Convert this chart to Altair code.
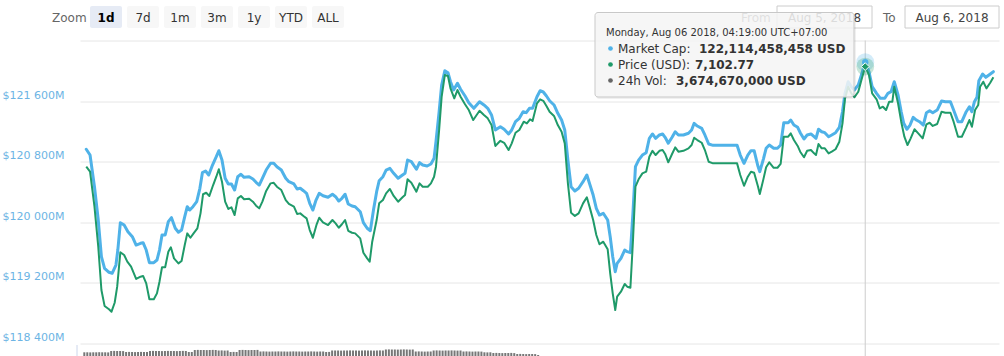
import altair as alt
import pandas as pd

# ---------------- data ----------------
# minutes since the start of the 1-day window (Aug 5 2018, 07:43 UTC+7)
cap_t = [2, 8, 15, 21, 26, 31, 38, 43, 49, 52,
         56, 62, 68, 75, 81, 88, 92, 97, 102, 109,
         114, 118, 122, 127, 132, 137, 143, 148, 153, 158,
         162, 166, 171, 177, 182, 186, 191, 196, 202, 208,
         212, 217, 222, 227, 232, 237, 242, 247, 252, 260,
         266, 271, 276, 281, 287, 294, 299, 304, 311, 318,
         323, 331, 336, 341, 346, 351, 356, 361, 366, 371,
         377, 385, 392, 397, 402, 407, 412, 417, 423, 428,
         436, 441, 447, 452, 457, 462, 466, 472, 477, 483,
         489, 496, 503, 507, 511, 517, 525, 530, 535, 542,
         548, 553, 556, 561, 565, 570, 575, 579, 584, 590,
         595, 602, 608, 616, 625, 632, 638, 644, 650, 658,
         664, 671, 676, 682, 688, 694, 699, 704, 709, 716,
         721, 726, 731, 736, 743, 749, 755, 760, 765, 770,
         776, 782, 789, 795, 800, 805, 810, 815, 821, 828,
         832, 836, 840, 843, 849, 855, 859, 864, 868, 872,
         877, 883, 889, 894, 899, 904, 910, 915, 919, 924,
         930, 935, 940, 948, 956, 961, 965, 970, 977, 982,
         988, 995, 1008, 1024, 1033, 1038, 1044, 1050, 1055, 1060,
         1066, 1069, 1075, 1079, 1084, 1091, 1097, 1102, 1107, 1114,
         1118, 1123, 1129, 1133, 1139, 1144, 1150, 1155, 1158, 1162,
         1167, 1172, 1178, 1183, 1189, 1195, 1200, 1204, 1209, 1214,
         1219, 1225, 1230, 1236, 1242, 1247, 1254, 1260, 1267, 1272,
         1277, 1282, 1288, 1293, 1297, 1302, 1307, 1312, 1317, 1322,
         1328, 1333, 1338, 1343, 1350, 1357, 1363, 1371, 1376, 1383,
         1389, 1396, 1401, 1405, 1409, 1413, 1416, 1422, 1427, 1432, 1439]

# market cap, millions of USD
cap_v = [120964, 120888, 120470, 120030, 119546, 119393, 119340, 119327, 119436, 119634,
         119995, 119964, 119876, 119810, 119700, 119723, 119731, 119634, 119467, 119467,
         119502, 119634, 119832, 119832, 120008, 120061, 119921, 119868, 119898, 120074,
         120206, 120162, 120206, 120272, 120449, 120655, 120677, 120624, 120756, 120866,
         120945, 120822, 120581, 120506, 120506, 120426, 120602, 120634, 120594, 120602,
         120572, 120528, 120492, 120581, 120690, 120779, 120779, 120734, 120690, 120581,
         120536, 120506, 120440, 120449, 120417, 120383, 120251, 120162, 120294, 120383,
         120351, 120330, 120370, 120338, 120281, 120317, 120370, 120242, 120215, 120206,
         120140, 119995, 119921, 119889, 120162, 120404, 120549, 120602, 120690, 120713,
         120647, 120581, 120624, 120647, 120822, 120800, 120700, 120787, 120756, 120743,
         120770, 120845, 121064, 121460, 121813, 122001, 121975, 121856, 121747, 121835,
         121756, 121667, 121579, 121505, 121592, 121549, 121505, 121417, 121219, 121262,
         121228, 121166, 121219, 121328, 121373, 121460, 121447, 121505, 121505, 121658,
         121737, 121720, 121667, 121605, 121549, 121439, 121350, 121219, 120822, 120470,
         120413, 120449, 120536, 120624, 120492, 120360, 120185, 120096, 120119, 120030,
         119810, 119546, 119348, 119459, 119525, 119634, 119612, 119599, 120119, 120734,
         120822, 120888, 120919, 121109, 121166, 121109, 121153, 121166, 121122, 121043,
         121122, 121196, 121153, 121153, 121175, 121219, 121307, 121271, 121241, 121153,
         121034, 121016, 121016, 121016, 121016, 120888, 120779, 120888, 120945, 120945,
         120743, 120668, 120845, 120977, 121020, 120977, 120977, 121020, 121315, 121315,
         121350, 121284, 121254, 121183, 121100, 121153, 121166, 121130, 121109, 121228,
         121196, 121183, 121130, 121153, 121183, 121254, 121460, 121703, 121856, 121790,
         121747, 121813, 121945, 122114.458458, 121988, 121790, 121703, 121637, 121637, 121703,
         121724, 121856, 121681, 121460, 121307, 121228, 121284, 121386, 121350, 121328,
         121284, 121447, 121473, 121447, 121482, 121601, 121592, 121592, 121482, 121328,
         121328, 121460, 121526, 121460, 121592, 121650, 121869, 121958, 121914, 121945, 121988]

price_t = [2, 8, 15, 21, 26, 31, 38, 42, 47, 51,
           56, 62, 67, 73, 81, 88, 92, 97, 102, 109,
           114, 118, 122, 127, 132, 136, 141, 148, 153, 158,
           162, 167, 172, 178, 183, 187, 192, 197, 203, 208,
           212, 217, 222, 227, 232, 237, 242, 247, 252, 260,
           266, 271, 276, 281, 287, 294, 299, 304, 311, 318,
           323, 331, 336, 341, 346, 351, 356, 361, 367, 371,
           377, 385, 392, 397, 402, 407, 412, 417, 423, 428,
           436, 441, 447, 451, 455, 462, 466, 472, 477, 483,
           489, 496, 503, 507, 511, 517, 525, 530, 535, 543,
           548, 553, 556, 561, 565, 570, 575, 579, 585, 590,
           595, 602, 608, 615, 625, 632, 638, 644, 650, 658,
           664, 671, 676, 682, 688, 695, 700, 705, 709, 716,
           721, 726, 731, 736, 743, 749, 755, 760, 765, 770,
           776, 782, 789, 795, 800, 805, 810, 815, 821, 828,
           832, 836, 840, 843, 849, 855, 859, 864, 868, 872,
           877, 883, 889, 894, 899, 904, 910, 915, 919, 924,
           930, 935, 940, 948, 956, 961, 965, 970, 977, 982,
           988, 995, 1008, 1024, 1033, 1038, 1044, 1050, 1055, 1060,
           1066, 1069, 1075, 1079, 1084, 1091, 1097, 1102, 1107, 1114,
           1118, 1123, 1129, 1133, 1139, 1144, 1150, 1155, 1158, 1162,
           1167, 1172, 1178, 1183, 1189, 1195, 1200, 1204, 1209, 1214,
           1219, 1225, 1230, 1236, 1242, 1247, 1254, 1259, 1264, 1269,
           1274, 1279, 1282, 1288, 1293, 1298, 1303, 1308, 1314, 1320,
           1327, 1333, 1338, 1343, 1350, 1357, 1363, 1371, 1376, 1383,
           1389, 1396, 1401, 1405, 1410, 1415, 1418, 1423, 1428, 1434, 1439]

# price, USD
price_v = [7036.7, 7033.4, 7010.3, 6983.9, 6955.3, 6944.8, 6942.6, 6941.0, 6946.9, 6957.5,
           6980.2, 6978.4, 6974.0, 6970.7, 6962.6, 6964.1, 6964.6, 6959.7, 6949.2, 6949.2,
           6953.1, 6960.8, 6970.3, 6970.3, 6980.6, 6983.5, 6976.2, 6972.9, 6974.5, 6985.0,
           6992.7, 6989.8, 6992.7, 6996.0, 7005.9, 7018.5, 7019.5, 7017.4, 7024.6, 7030.1,
           7035.0, 7026.8, 7013.6, 7008.8, 7009.9, 7004.8, 7015.8, 7017.4, 7015.2, 7015.6,
           7013.6, 7011.0, 7009.2, 7013.6, 7020.7, 7025.7, 7026.1, 7023.5, 7021.3, 7014.7,
           7012.1, 7010.3, 7005.5, 7005.9, 7004.2, 7002.6, 6994.9, 6989.8, 6998.7, 7003.0,
           7000.0, 6998.2, 7001.5, 6999.3, 6996.4, 6998.7, 7001.5, 6994.4, 6993.1, 6992.7,
           6989.4, 6979.9, 6976.2, 6974.0, 6987.2, 7001.5, 7012.5, 7014.7, 7019.1, 7022.0,
           7017.4, 7013.6, 7016.5, 7018.0, 7028.4, 7026.1, 7020.2, 7025.7, 7023.5, 7023.5,
           7025.7, 7030.1, 7036.7, 7060.9, 7082.9, 7097.2, 7096.6, 7088.4, 7081.8, 7087.3,
           7082.9, 7077.9, 7074.1, 7067.5, 7073.6, 7070.8, 7068.6, 7064.2, 7050.4, 7053.8,
           7052.5, 7047.7, 7052.1, 7059.1, 7060.9, 7066.4, 7065.3, 7068.0, 7066.9, 7078.5,
           7081.2, 7080.2, 7076.8, 7073.0, 7070.2, 7064.2, 7059.8, 7052.1, 7025.7, 7006.3,
           7004.2, 7005.9, 7012.5, 7016.5, 7009.2, 7001.5, 6991.6, 6985.5, 6987.2, 6982.2,
           6966.3, 6953.1, 6942.1, 6950.9, 6954.2, 6959.3, 6957.5, 6956.8, 6987.2, 7023.5,
           7028.4, 7032.3, 7033.4, 7043.3, 7047.2, 7044.4, 7047.2, 7047.7, 7045.1, 7039.6,
           7045.1, 7049.5, 7046.6, 7047.2, 7048.8, 7051.0, 7055.8, 7054.3, 7052.5, 7047.7,
           7040.0, 7038.9, 7038.9, 7038.9, 7038.9, 7031.2, 7024.1, 7030.1, 7033.4, 7032.7,
           7023.8, 7018.7, 7029.0, 7036.3, 7039.6, 7036.0, 7036.0, 7038.5, 7056.5, 7056.5,
           7058.7, 7054.3, 7050.4, 7046.6, 7042.9, 7047.2, 7047.7, 7045.5, 7044.4, 7051.7,
           7048.8, 7048.8, 7045.5, 7046.6, 7048.2, 7053.2, 7065.3, 7081.8, 7089.5, 7085.1,
           7082.5, 7086.2, 7093.9, 7102.77, 7097.2, 7085.1, 7081.2, 7075.2, 7076.3, 7074.1,
           7079.6, 7079.6, 7089.5, 7078.5, 7066.4, 7056.5, 7051.0, 7055.4, 7061.4, 7058.7,
           7055.4, 7064.7, 7065.7, 7063.6, 7064.9, 7073.0, 7072.3, 7072.3, 7066.4, 7056.5,
           7056.5, 7062.7, 7067.5, 7063.1, 7074.1, 7077.4, 7089.5, 7092.8, 7088.4, 7092.1, 7095.7]

# volume pane (only its top edge is visible), relative units
vol_v = [9.7, 9.7, 9.6, 9.7, 9.7, 9.8, 9.7, 9.7, 9.6,
         11.0, 11.1, 11.0, 11.0, 10.9,
         10.0, 10.1, 10.0, 9.9, 10.0,
         10.1, 10.0, 10.0,
         11.0, 11.1, 11.0, 11.0, 10.9, 11.0, 11.1, 11.0, 11.0, 10.9, 11.0, 11.1, 11.0,
         10.0, 10.0,
         12.0, 12.1, 12.0, 12.0, 11.9, 12.0, 12.1, 12.0,
         11.5, 11.6, 11.4, 11.5,
         10.0, 10.1, 10.0,
         12.0, 12.1, 12.0, 11.9, 12.0, 12.0, 12.1,
         10.5, 10.6, 10.5, 10.4, 10.5, 10.5, 10.6, 10.5, 10.5, 10.4, 10.5,
         10.6, 10.5, 10.5, 10.4, 10.5, 10.5, 10.6, 10.5, 10.4, 10.5, 10.5,
         10.0, 10.1,
         11.5, 11.6, 11.5, 11.4, 11.5, 11.5, 11.6, 11.5, 11.5, 11.4, 11.5, 11.6, 11.5, 11.5, 11.4, 11.5, 11.6, 11.5,
         12.5, 12.6, 12.5, 12.5, 12.4, 12.5, 12.6, 12.5, 12.4, 12.5,
         10.5, 10.6, 10.5, 10.4, 10.5, 10.5,
         11.5, 11.6, 11.5, 11.4, 11.5, 11.5, 11.6, 11.5, 11.4, 11.5,
         10.5, 10.6, 10.5, 10.4, 10.5, 10.5, 10.4,
         9.7, 9.6, 9.7,
         9.0, 9.1, 9.0, 8.9, 9.0, 9.0, 9.1, 8.9,
         8.0, 8.1, 8.0, 7.9, 8.0, 8.0, 7.9,
         7.0]

cap_ticks = [118400, 119200, 120000, 120800, 121600, 122400]

zoom_buttons = ["1d", "7d", "1m", "3m", "1y", "YTD", "ALL"]
date_from = "Aug 5, 2018"
date_to = "Aug 6, 2018"

hover_t = 1236
hover_cap = 122114.458458
hover_price = 7102.77
tip_title = "Monday, Aug 06 2018, 04:19:00 UTC+07:00"
tip_rows = [("Market Cap: ", "122,114,458,458 USD"),
            ("Price (USD): ", "7,102.77"),
            ("24h Vol: ", "3,674,670,000 USD")]

# ---------------- styling ----------------
FONT = "DejaVu Sans"
BLUE = "#4fb2e8"
GREEN = "#1f9a69"
GRAY = "#777777"
LABEL = "#6cb4e4"
OX, OY = 80, 40.5          # plot origin inside the page
W, H = 919, 303

cap_df = pd.DataFrame({"t": cap_t, "cap": cap_v})
price_df = pd.DataFrame({"t": price_t, "price": price_v})
vol_df = pd.DataFrame({"t": [-1.1 + 4.73 * i for i in range(len(vol_v))], "vol": vol_v})
hover_df = pd.DataFrame({"t": [hover_t], "cap": [hover_cap], "price": [hover_price]})
one = pd.DataFrame({"k": [0]})

xs = alt.Scale(domain=[0, 1440], nice=False, zero=False)
X = alt.X("t:Q", scale=xs, axis=None)
cap_scale = alt.Scale(domain=[118400, 122400], nice=False, zero=False)
price_scale = alt.Scale(domain=[6920, 7120], nice=False, zero=False)


def txt(s, x, y, size=12, color="#333333", weight="normal", align="left", baseline="alphabetic", opacity=1):
    return alt.Chart(one).mark_text(
        text=s, align=align, baseline=baseline, font=FONT, fontSize=size,
        fontWeight=weight, color=color, opacity=opacity
    ).encode(x=alt.value(x - OX), y=alt.value(y - OY))


def box(x1, y1, x2, y2, fill, stroke=None, radius=0, fill_opacity=1.0, stroke_width=1):
    kw = dict(color=fill, fillOpacity=fill_opacity, cornerRadius=radius)
    if stroke:
        kw.update(stroke=stroke, strokeWidth=stroke_width)
    return alt.Chart(one).mark_rect(**kw).encode(
        x=alt.value(x1 - OX), x2=alt.value(x2 - OX),
        y=alt.value(y1 - OY), y2=alt.value(y2 - OY))


layers = []

# range selector
layers.append(txt("Zoom", 52, 21.5, size=12, color="#666666"))
for i, b in enumerate(zoom_buttons):
    x0 = 90 + 37 * i
    sel = i == 0
    layers.append(box(x0, 6, x0 + 32, 28, "#e6ebf5" if sel else "#f7f7f7", radius=2))
    layers.append(txt(b, x0 + 16, 21.5, size=12, color="#000000" if sel else "#333333",
                      weight="bold" if sel else "normal", align="center"))

# date inputs
layers.append(txt("From", 741, 21.5, size=12, color="#666666"))
layers.append(box(777, 6, 872, 28, "#ffffff", stroke="#cccccc"))
layers.append(txt(date_from, 824.5, 21.5, size=12, color="#444444", align="center"))
layers.append(txt("To", 883, 21.5, size=12, color="#666666"))
layers.append(box(905, 6, 999, 28, "#ffffff", stroke="#cccccc"))
layers.append(txt(date_to, 952, 21.5, size=12, color="#444444", align="center"))

# volume pane (top edge only)
layers.append(alt.Chart(one).mark_rule(color="#ccd6eb").encode(
    x=alt.value(77 - OX), y=alt.value(345 - OY), y2=alt.value(356 - OY)))
layers.append(alt.Chart(vol_df).mark_bar(size=2, color=GRAY).encode(
    x=X,
    y=alt.Y("vol:Q", scale=alt.Scale(domain=[0, 20], range=[362 - OY, 342 - OY], nice=False), axis=None)))

# crosshair
layers.append(alt.Chart(hover_df).mark_rule(color="#cccccc", strokeWidth=1).encode(
    x=X, y=alt.value(0), y2=alt.value(356 - OY)))

# market cap line with its axis
label_expr = ("datum.value >= 122400 ? '' : '$' + replace(format(datum.value, ','), ',', ' ') + 'M'")
layers.append(alt.Chart(cap_df).mark_line(color=BLUE, strokeWidth=3, strokeJoin="round", strokeCap="round").encode(
    x=X,
    y=alt.Y("cap:Q", scale=cap_scale,
            axis=alt.Axis(values=cap_ticks, title=None, grid=True, gridColor="#e6e6e6", gridWidth=1,
                          domain=False, ticks=False, labelColor=LABEL, labelFont=FONT, labelFontSize=11,
                          labelPadding=16, labelOffset=-3, labelBaseline="alphabetic",
                          labelExpr=label_expr))))

# price line
layers.append(alt.Chart(price_df).mark_line(color=GREEN, strokeWidth=2, strokeJoin="round").encode(
    x=X, y=alt.Y("price:Q", scale=price_scale, axis=None)))

# hover halos and markers
layers.append(alt.Chart(hover_df).mark_circle(size=320, color=BLUE, opacity=0.25).encode(
    x=X, y=alt.Y("cap:Q", scale=cap_scale, axis=None)))
layers.append(alt.Chart(hover_df).mark_circle(size=320, color=GREEN, opacity=0.25).encode(
    x=X, y=alt.Y("price:Q", scale=price_scale, axis=None)))
layers.append(alt.Chart(hover_df).mark_circle(size=40, color=BLUE, opacity=1).encode(
    x=X, y=alt.Y("cap:Q", scale=cap_scale, axis=None)))
layers.append(alt.Chart(hover_df).mark_point(shape="diamond", size=60, filled=True, color=GREEN,
                                             stroke="#ffffff", strokeWidth=1, opacity=1).encode(
    x=X, y=alt.Y("price:Q", scale=price_scale, axis=None)))

# tooltip
layers.append(box(596, 14, 856, 99, "#000000", fill_opacity=0.06, radius=3))
layers.append(box(595, 12.5, 854, 97, "#f7f7f7", stroke="#c8c8c8", radius=3, fill_opacity=0.85))
layers.append(txt(tip_title, 606, 36, size=10, color="#333333"))
dot_cols = [BLUE, GREEN, "#666666"]
val_x = [699, 695, 676]
for i, (lab, val) in enumerate(tip_rows):
    yb = 53 + 16 * i
    layers.append(alt.Chart(one).mark_circle(size=22, color=dot_cols[i], opacity=1).encode(
        x=alt.value(610.5 - OX), y=alt.value(yb - 4.5 - OY)))
    layers.append(txt(lab, 618, yb, size=12, color="#333333"))
    layers.append(txt(val, val_x[i], yb, size=12, color="#333333", weight="bold"))

chart = alt.layer(*layers).resolve_scale(y="independent").properties(
    width=W, height=H,
    autosize=alt.AutoSizeParams(type="none"),
    padding={"left": OX, "top": OY, "right": 1004 - OX - W, "bottom": 356 - OY - H},
    background="#ffffff",
).configure_view(stroke=None)

chart.save("out.html", embed_options={"renderer": "svg", "actions": False})
